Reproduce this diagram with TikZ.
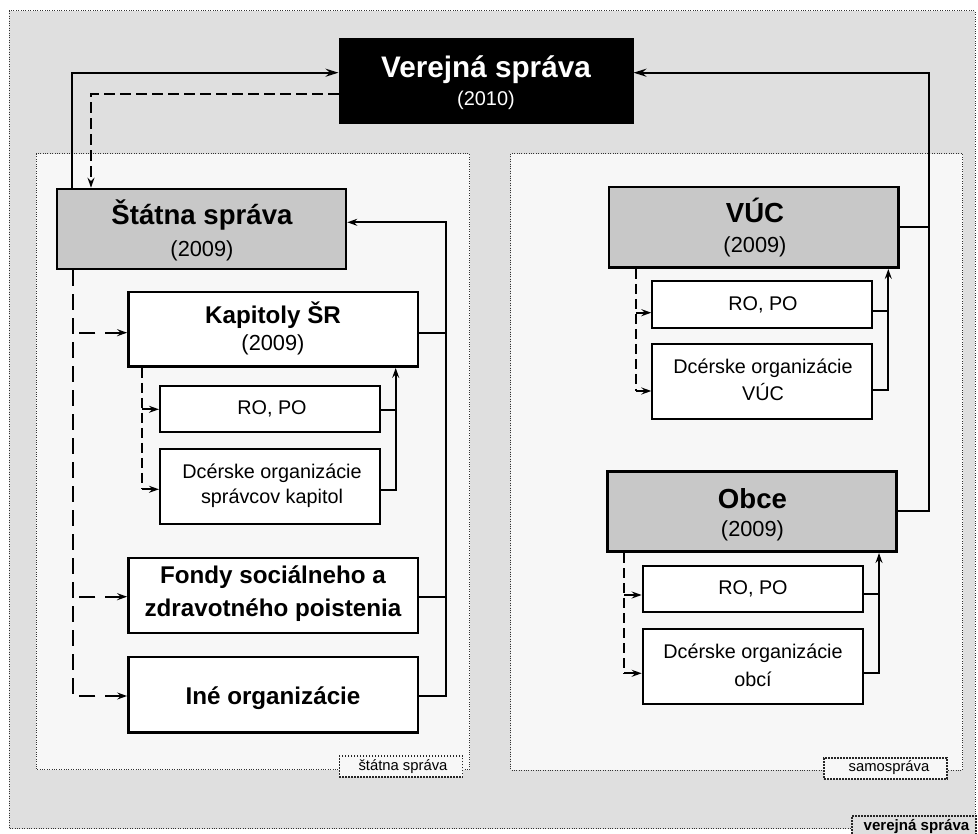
\documentclass[tikz,border=0pt]{standalone}
\usepackage{fontspec}
\setmainfont{Liberation Sans}
\usetikzlibrary{arrows.meta}
\definecolor{bgout}{HTML}{DFDFDF}
\definecolor{bgin}{HTML}{F7F7F7}
\definecolor{boxgray}{HTML}{C8C8C8}
\newcommand{\fs}[1]{\fontsize{#1}{#1}\selectfont}
\begin{document}
\begin{tikzpicture}[x=1pt,y=-1pt,
  conn/.style={line width=2pt, draw=black},
  arrbig/.style={-{Stealth[length=13pt,width=8pt,inset=4.5pt]}},
  arrsm/.style={-{Stealth[length=10pt,width=7pt,inset=3.5pt]}},
  arrsmrev/.style={{Stealth[length=10pt,width=7pt,inset=3.5pt]}-},
  dashbig/.style={dash pattern=on 16pt off 8pt},
  dashbr/.style={dash pattern=on 16pt off 10pt},
  dashtop/.style={dash pattern=on 11pt off 5pt},
  dashsm/.style={dash pattern=on 10pt off 5pt},
  zone/.style={draw=black!80, line width=1pt, dash pattern=on 1pt off 1.4pt},
  zonelabel/.style={draw=black!85, line width=1.4pt, dash pattern=on 1.6pt off 1.4pt, inner sep=0pt},
  bigbox/.style={draw=black, line width=2.6pt, fill=boxgray, inner sep=0pt},
  whitebox/.style={draw=black, line width=2.4pt, fill=white, inner sep=0pt},
  smallbox/.style={draw=black, line width=2.1pt, fill=white, inner sep=0pt},
  txt/.style={anchor=base, inner sep=0pt},
  ttl/.style={txt, font=\fs{27.6}\bfseries},
  sub/.style={txt, font=\fs{24.2}\bfseries},
  yr/.style={txt, font=\fs{21.8}},
  reg/.style={txt, font=\fs{19.8}},
  lab/.style={txt, font=\fs{14.8}}
]
\useasboundingbox (0,0) rectangle (978,834);
\clip (0,0) rectangle (978,834);

% zones
\path[fill=bgout] (9,11) rectangle (975,828.5);
\draw[zone] (9,11) rectangle (975,828.5);
\path[fill=bgin] (36,154) rectangle (469.5,769.5);
\draw[zone] (36,154) rectangle (469.5,769.5);
\path[fill=bgin] (510.7,154) rectangle (962.5,770);
\draw[zone] (510.7,154) rectangle (962.5,770);

% boxes
\node[draw=black, fill=black, line width=1pt, minimum width=294pt, minimum height=85pt] (vs) at (486,81.5) {};
\node[bigbox, minimum width=289pt, minimum height=80pt] (ss) at (201.5,229) {};
\node[whitebox, minimum width=289.4pt, minimum height=74.4pt] (kap) at (273,329.5) {};
\node[smallbox, minimum width=220pt, minimum height=46.3pt] (ro1) at (270,409.2) {};
\node[smallbox, minimum width=220pt, minimum height=75pt] (dcs) at (270,486.8) {};
\node[whitebox, minimum width=289.4pt, minimum height=75pt] (fon) at (273,595.2) {};
\node[whitebox, minimum width=289.4pt, minimum height=75.6pt] (ine) at (273,694.5) {};
\node[bigbox, minimum width=289.7pt, minimum height=80.7pt] (vuc) at (753.8,227.3) {};
\node[smallbox, minimum width=219.7pt, minimum height=47pt] (rov) at (762.2,304.2) {};
\node[smallbox, minimum width=219.7pt, minimum height=75pt] (dv) at (762.2,381.5) {};
\node[bigbox, minimum width=289.4pt, minimum height=80pt] (obce) at (752,511.7) {};
\node[smallbox, minimum width=220pt, minimum height=46.6pt] (roo) at (752.7,589) {};
\node[smallbox, minimum width=220pt, minimum height=75.3pt] (dob) at (752.7,666.7) {};

% texts
\node[txt, font=\fs{29.7}\bfseries, text=white] (vs-t) at (486,77.3) {Verejná správa};
\node[txt, font=\fs{19.9}, text=white] (vs-y) at (486,106) {(2010)};
\node[ttl] (ss-t) at (202,224.3) {Štátna správa};
\node[yr] (ss-y) at (202,257) {(2009)};
\node[sub] (kap-t) at (273,323.3) {Kapitoly ŠR};
\node[yr] (kap-y) at (273,351) {(2009)};
\node[reg] (ro1-t) at (272,414) {RO, PO};
\node[reg] (dcs-t1) at (272,478.3) {Dcérske organizácie};
\node[reg] (dcs-t2) at (272,503.3) {správcov kapitol};
\node[sub] (fon-t1) at (273,583.3) {Fondy sociálneho a};
\node[sub] (fon-t2) at (273,616.5) {zdravotného poistenia};
\node[sub] (ine-t) at (273,704) {Iné organizácie};
\node[ttl] (vuc-t) at (755,222.7) {VÚC};
\node[yr] (vuc-y) at (755,252.3) {(2009)};
\node[reg] (rov-t) at (763,310.3) {RO, PO};
\node[reg] (dv-t1) at (763,373.3) {Dcérske organizácie};
\node[reg] (dv-t2) at (763,401) {VÚC};
\node[ttl] (obce-t) at (752.5,508.3) {Obce};
\node[yr] (obce-y) at (752.5,536.7) {(2009)};
\node[reg] (roo-t) at (753,594) {RO, PO};
\node[reg] (dob-t1) at (753,658.3) {Dcérske organizácie};
\node[reg] (dob-t2) at (753,686) {obcí};

% connectors: left
\coordinate (a1) at (72,72.7);
\draw[conn,arrbig] (ss.north -| a1) -- (a1) -- (vs.west |- a1);
\coordinate (a2) at (91,94);
\draw[conn,dashtop,arrsm] (vs.west |- a2) -- (a2) -- (ss.north -| a2);

\coordinate (t1) at (73.3,696);
\coordinate (t2) at (73.3,332.7);
\coordinate (t3) at (73.3,596.7);
\draw[conn,dashbig] (ss.south -| t1) -- (t1);
\draw[conn,dashbr,arrsmrev] (ine.west |- t1) -- (t1);
\draw[conn,dashbr,arrsmrev] (kap.west |- t2) -- (t2);
\draw[conn,dashbr,arrsmrev] (fon.west |- t3) -- (t3);

\coordinate (k1) at (141.7,489.3);
\coordinate (k2) at (141.7,409.3);
\draw[conn,dashsm] (kap.south -| k1) -- (k1);
\draw[conn,arrsm] (k1) -- (dcs.west |- k1);
\draw[conn,arrsm] (k2) -- (ro1.west |- k2);
\coordinate (k3) at (395.7,490);
\coordinate (k4) at (395.7,410);
\draw[conn,arrsm] (dcs.east |- k3) -- (k3) -- (kap.south -| k3);
\draw[conn] (ro1.east |- k4) -- (k4);

\coordinate (r1) at (446,696);
\coordinate (r2) at (446,222.3);
\coordinate (r3) at (446,332.7);
\coordinate (r4) at (446,596.7);
\draw[conn,arrsm] (ine.east |- r1) -- (r1) -- (r2) -- (ss.east |- r2);
\draw[conn] (kap.east |- r3) -- (r3);
\draw[conn] (fon.east |- r4) -- (r4);

% connectors: right
\coordinate (v1) at (929.3,510.7);
\coordinate (v2) at (929.3,72.7);
\coordinate (v3) at (929.3,226.7);
\draw[conn,arrbig] (obce.east |- v1) -- (v1) -- (v2) -- (vs.east |- v2);
\draw[conn] (vuc.east |- v3) -- (v3);

\coordinate (u1) at (636,391);
\coordinate (u2) at (636,312.7);
\draw[conn,dashsm] (vuc.south -| u1) -- (u1);
\draw[conn,arrsm] (u1) -- (dv.west |- u1);
\draw[conn,arrsm] (u2) -- (rov.west |- u2);
\coordinate (u3) at (888.3,390);
\coordinate (u4) at (888.3,310.7);
\draw[conn,arrsm] (dv.east |- u3) -- (u3) -- (vuc.south -| u3);
\draw[conn] (rov.east |- u4) -- (u4);

\coordinate (o1) at (624.3,673.3);
\coordinate (o2) at (624.3,595);
\draw[conn,dashsm] (obce.south -| o1) -- (o1);
\draw[conn,arrsm] (o1) -- (dob.west |- o1);
\draw[conn,arrsm] (o2) -- (roo.west |- o2);
\coordinate (o3) at (879,673);
\coordinate (o4) at (879,594.3);
\draw[conn,arrsm] (dob.east |- o3) -- (o3) -- (obce.south -| o3);
\draw[conn] (roo.east |- o4) -- (o4);

% zone labels
\node[zonelabel, fill=bgin, minimum width=123.4pt, minimum height=21pt] (lst) at (401,766.5) {};
\node[lab] (lst-t) at (403,770.7) {štátna správa};
\node[zonelabel, fill=bgin, minimum width=123pt, minimum height=21pt] (lsa) at (885.5,768.5) {};
\node[lab] (lsa-t) at (889,771.7) {samospráva};
\node[zonelabel, fill=bgout, minimum width=124pt, minimum height=21pt] (lvs) at (914,826.5) {};
\node[lab, font=\fs{15.1}\bfseries] (lvs-t) at (916.5,830) {verejná správa};
\end{tikzpicture}
\end{document}
